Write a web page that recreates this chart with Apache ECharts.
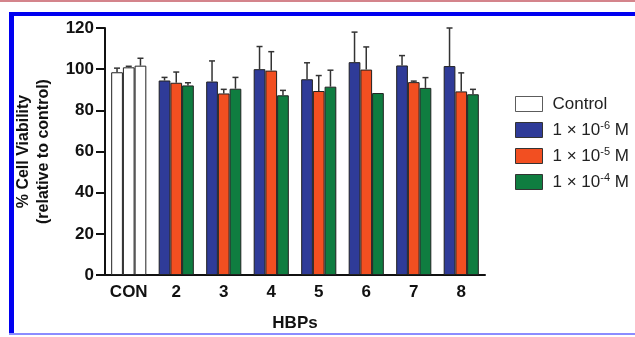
<!DOCTYPE html>
<html>
<head>
<meta charset="utf-8">
<script src="https://cdn.jsdelivr.net/npm/echarts@6/dist/echarts.min.js"></script>
<style>
  html, body { margin: 0; padding: 0; background: #fff; }
  #main { width: 635px; height: 337px; }
</style>
</head>
<body>
<div id="main"></div>
<script>
// categories on the x axis
var categories = ['CON', '2', '3', '4', '5', '6', '7', '8'];

// the three white control bars and their upper error
var controlValues = [98.5, 100.9, 101.7];
var controlErrors = [2, 0.5, 3.6];

// HBPs 2..8, one value per concentration
var dose6 = [94.5, 94.0, 100.0, 95.1, 103.4, 101.8, 101.5];
var err6 = [1.5, 10, 11, 8, 14.6, 4.8, 18.5];
var dose5 = [93.4, 88.2, 99.3, 89.4, 99.8, 93.7, 89.2];
var err5 = [5.2, 2, 9.2, 7.5, 11, 0.5, 9];
var dose4 = [92.1, 90.5, 87.3, 91.5, 88.4, 90.9, 87.8];
var err4 = [1.3, 5.5, 2.4, 8, 0, 5, 2.4];

var seriesNames = ['1e-6', '1e-5', '1e-4'];
var seriesColors = ['#2f3b98', '#f24f21', '#0f7d40'];
var legendText = {
    'Control': 'Control',
    '1e-6': '1 × 10{sup|-6} M',
    '1e-5': '1 × 10{sup|-5} M',
    '1e-4': '1 × 10{sup|-4} M'
};

var doses = [dose6, dose5, dose4];
var errs = [err6, err5, err4];

var myChart = echarts.init(document.getElementById('main'));

var barSeries = [];
var errData = [];
for (var s = 0; s < 3; s++) {
    var d = [{ value: controlValues[s], itemStyle: { color: '#ffffff' } }];
    errData.push([0, s, controlValues[s], controlValues[s] + controlErrors[s]]);
    for (var i = 0; i < doses[s].length; i++) {
        d.push(doses[s][i]);
        errData.push([i + 1, s, doses[s][i], doses[s][i] + errs[s][i]]);
    }
    barSeries.push({
        name: seriesNames[s],
        type: 'bar',
        data: d,
        barGap: '0%',
        barCategoryGap: '26%',
        itemStyle: { color: seriesColors[s], borderColor: '#222', borderWidth: 1 },
        z: 3
    });
}

var font = 'Arial, "Liberation Sans", Helvetica, sans-serif';

var option = {
    animation: false,
    grid: { left: 105, right: 150, top: 28, bottom: 59 },
    legend: {
        orient: 'vertical',
        left: 510,
        top: 89,
        itemWidth: 27,
        itemHeight: 15,
        itemGap: 6,
        icon: 'rect',
        data: ['Control', '1e-6', '1e-5', '1e-4'],
        itemStyle: { borderColor: '#333', borderWidth: 1 },
        formatter: function (name) { return legendText[name]; },
        textStyle: {
            fontSize: 17,
            color: '#222',
            fontFamily: font,
            lineHeight: 20,
            padding: [0, 0, 0, 5],
            rich: {
                sup: { fontSize: 11, fontFamily: font, color: '#222', lineHeight: 20, padding: [0, 0, 9, 0] }
            }
        }
    },
    graphic: [
        { type: 'rect', shape: { x: 0, y: 0, width: 635, height: 2 }, style: { fill: '#d4848b' } },
        { type: 'rect', shape: { x: 9, y: 12, width: 626, height: 4 }, style: { fill: '#0000f0' } },
        { type: 'rect', shape: { x: 9, y: 12, width: 5, height: 323 }, style: { fill: '#0000f0' } },
        { type: 'rect', shape: { x: 9, y: 333, width: 626, height: 2 }, style: { fill: '#8c8cff' } }
    ],
    xAxis: {
        type: 'category',
        data: categories,
        name: 'HBPs',
        nameLocation: 'middle',
        nameGap: 40,
        nameTextStyle: { fontSize: 17, fontWeight: 'bold', color: '#111', fontFamily: font },
        axisLine: { lineStyle: { color: '#111', width: 2 } },
        axisTick: { alignWithLabel: true, length: 6, interval: 0, lineStyle: { color: '#111', width: 2 } },
        axisLabel: { interval: 0, fontSize: 17, fontWeight: 'bold', color: '#111', fontFamily: font, margin: 9 }
    },
    yAxis: {
        type: 'value',
        min: 0,
        max: 120,
        interval: 20,
        name: '% Cell Viability\n(relative to control)',
        nameLocation: 'middle',
        nameGap: 51,
        nameTextStyle: { fontSize: 16, fontWeight: 'bold', color: '#111', fontFamily: font, lineHeight: 20 },
        axisLine: { show: true, lineStyle: { color: '#111', width: 2 } },
        axisTick: { show: true, length: 9, lineStyle: { color: '#111', width: 2 } },
        splitLine: { show: false },
        axisLabel: { fontSize: 17, fontWeight: 'bold', color: '#111', fontFamily: font, margin: 11 }
    },
    series: [
        {
            name: 'Control',
            type: 'scatter',
            data: [],
            itemStyle: { color: '#ffffff' }
        }
    ].concat(barSeries).concat([
        {
            name: 'errors',
            type: 'custom',
            data: errData,
            z: 4,
            renderItem: function (params, api) {
                var cat = api.value(0);
                var slot = api.value(1);
                var bandW = api.size([1, 0])[0];
                var barW = bandW * 0.74 / 3;
                var top = api.coord([cat, api.value(3)]);
                var base = api.coord([cat, api.value(2)]);
                var x = top[0] + (slot - 1) * barW;
                if (api.value(3) - api.value(2) < 0.2) return null;
                var style = { stroke: '#333', lineWidth: 1.5 };
                return {
                    type: 'group',
                    children: [
                        { type: 'line', shape: { x1: x, y1: base[1], x2: x, y2: top[1] }, style: style },
                        { type: 'line', shape: { x1: x - 3, y1: top[1], x2: x + 3, y2: top[1] }, style: style }
                    ]
                };
            }
        }
    ])
};

myChart.setOption(option);
</script>
</body>
</html>
